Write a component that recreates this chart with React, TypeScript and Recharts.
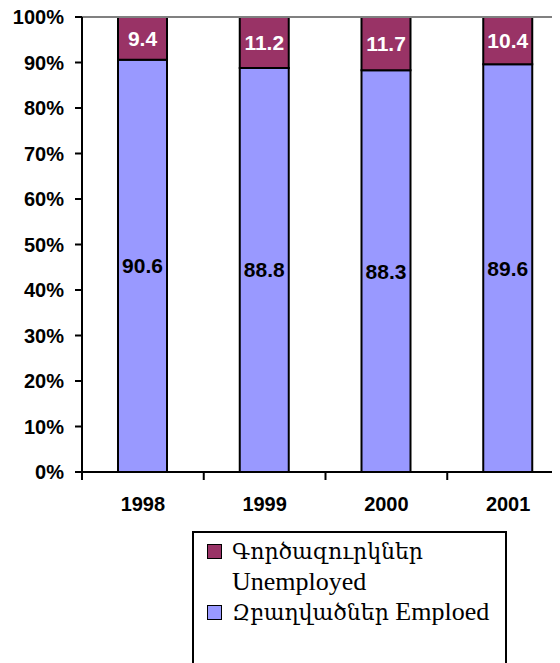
import React from "react";
import {
  BarChart,
  Bar,
  XAxis,
  YAxis,
  LabelList,
  Legend,
  ReferenceLine,
} from "recharts";

const years = ["1998", "1999", "2000", "2001"];
const employed = [90.6, 88.8, 88.3, 89.6];
const unemployed = [9.4, 11.2, 11.7, 10.4];
const yTicks = [0, 10, 20, 30, 40, 50, 60, 70, 80, 90, 100];

const employedName = "Զբաղվածներ Emploed";
const unemployedName = "Գործազուրկներ Unemployed";

const data = years.map((year, i) => ({
  year,
  employed: employed[i],
  unemployed: unemployed[i],
}));

const sans = "'Liberation Sans', Arial, sans-serif";
const serif = "'Liberation Serif', 'DejaVu Serif', serif";
const armenianSerif = "'DejaVu Serif', serif";

function YearTick(props: any) {
  const { x, y, payload, width, visibleTicksCount } = props;
  const half = payload.offset ?? width / visibleTicksCount / 2;
  const left = x - half;
  return (
    <g>
      <line x1={left} y1={y} x2={left} y2={y + 8} stroke="#000" strokeWidth={2} />
      <text
        x={x}
        y={y + 39}
        textAnchor="middle"
        fontFamily={sans}
        fontWeight="bold"
        fontSize={20}
        fill="#000"
      >
        {payload.value}
      </text>
    </g>
  );
}

function LegendBox(props: any) {
  const items = props.payload || [];
  return (
    <div
      style={{
        boxSizing: "border-box",
        width: 315,
        height: 150,
        border: "2px solid #000",
        background: "#fff",
        padding: "3px 0 0 13px",
        fontFamily: serif,
        fontSize: 26,
        lineHeight: "30px",
        color: "#000",
      }}
    >
      {items.map((item: any) => {
        const name = String(item.value);
        const cut = name.indexOf(" ");
        return (
          <div key={name} style={{ display: "flex", alignItems: "flex-start" }}>
            <span
              style={{
                boxSizing: "border-box",
                flex: "0 0 auto",
                width: 15,
                height: 15,
                marginTop: 8,
                marginRight: 10,
                border: "1.5px solid #000",
                background: item.color,
              }}
            />
            <span style={{ width: 285 }}>
              <span style={{ fontFamily: armenianSerif, fontSize: 22 }}>
                {name.slice(0, cut)}
              </span>{" "}
              <span>{name.slice(cut + 1)}</span>
            </span>
          </div>
        );
      })}
    </div>
  );
}

export default function App() {
  return (
    <div
      style={{
        width: 552,
        height: 663,
        marginTop: -8,
        overflow: "hidden",
        background: "#fff",
      }}
    >
      <BarChart
        width={600}
        height={663}
        data={data}
        margin={{ top: 17, right: 39, bottom: 151, left: 0 }}
      >
        <ReferenceLine y={100} stroke="#808080" strokeWidth={2} />
        <XAxis
          dataKey="year"
          tickSize={0}
          tickMargin={0}
          height={40}
          axisLine={{ stroke: "#000", strokeWidth: 2 }}
          tick={<YearTick />}
          interval={0}
        />
        <YAxis
          width={74}
          domain={[0, 100]}
          ticks={yTicks}
          tickFormatter={(v: number) => `${v}%`}
          tickSize={7}
          tickMargin={11}
          axisLine={{ stroke: "#000", strokeWidth: 2 }}
          tickLine={{ stroke: "#000", strokeWidth: 2 }}
          tick={{ fill: "#000", fontFamily: sans, fontWeight: "bold", fontSize: 20 }}
          interval={0}
        />
        <Legend
          layout="horizontal"
          verticalAlign="middle"
          align="center"
          wrapperStyle={{ left: 184, top: 531, width: 315 }}
          content={<LegendBox />}
        />
        <Bar
          dataKey="employed"
          name={employedName}
          stackId="a"
          fill="#9999FF"
          stroke="#000"
          strokeWidth={2}
          barSize={49}
          isAnimationActive={false}
        >
          <LabelList
            dataKey="employed"
            position="center"
            fill="#000"
            fontFamily={sans}
            fontWeight="bold"
            fontSize={21}
          />
        </Bar>
        <Bar
          dataKey="unemployed"
          name={unemployedName}
          stackId="a"
          fill="#993366"
          stroke="#000"
          strokeWidth={2}
          barSize={49}
          isAnimationActive={false}
        >
          <LabelList
            dataKey="unemployed"
            position="center"
            fill="#fff"
            fontFamily={sans}
            fontWeight="bold"
            fontSize={21}
          />
        </Bar>
      </BarChart>
    </div>
  );
}
